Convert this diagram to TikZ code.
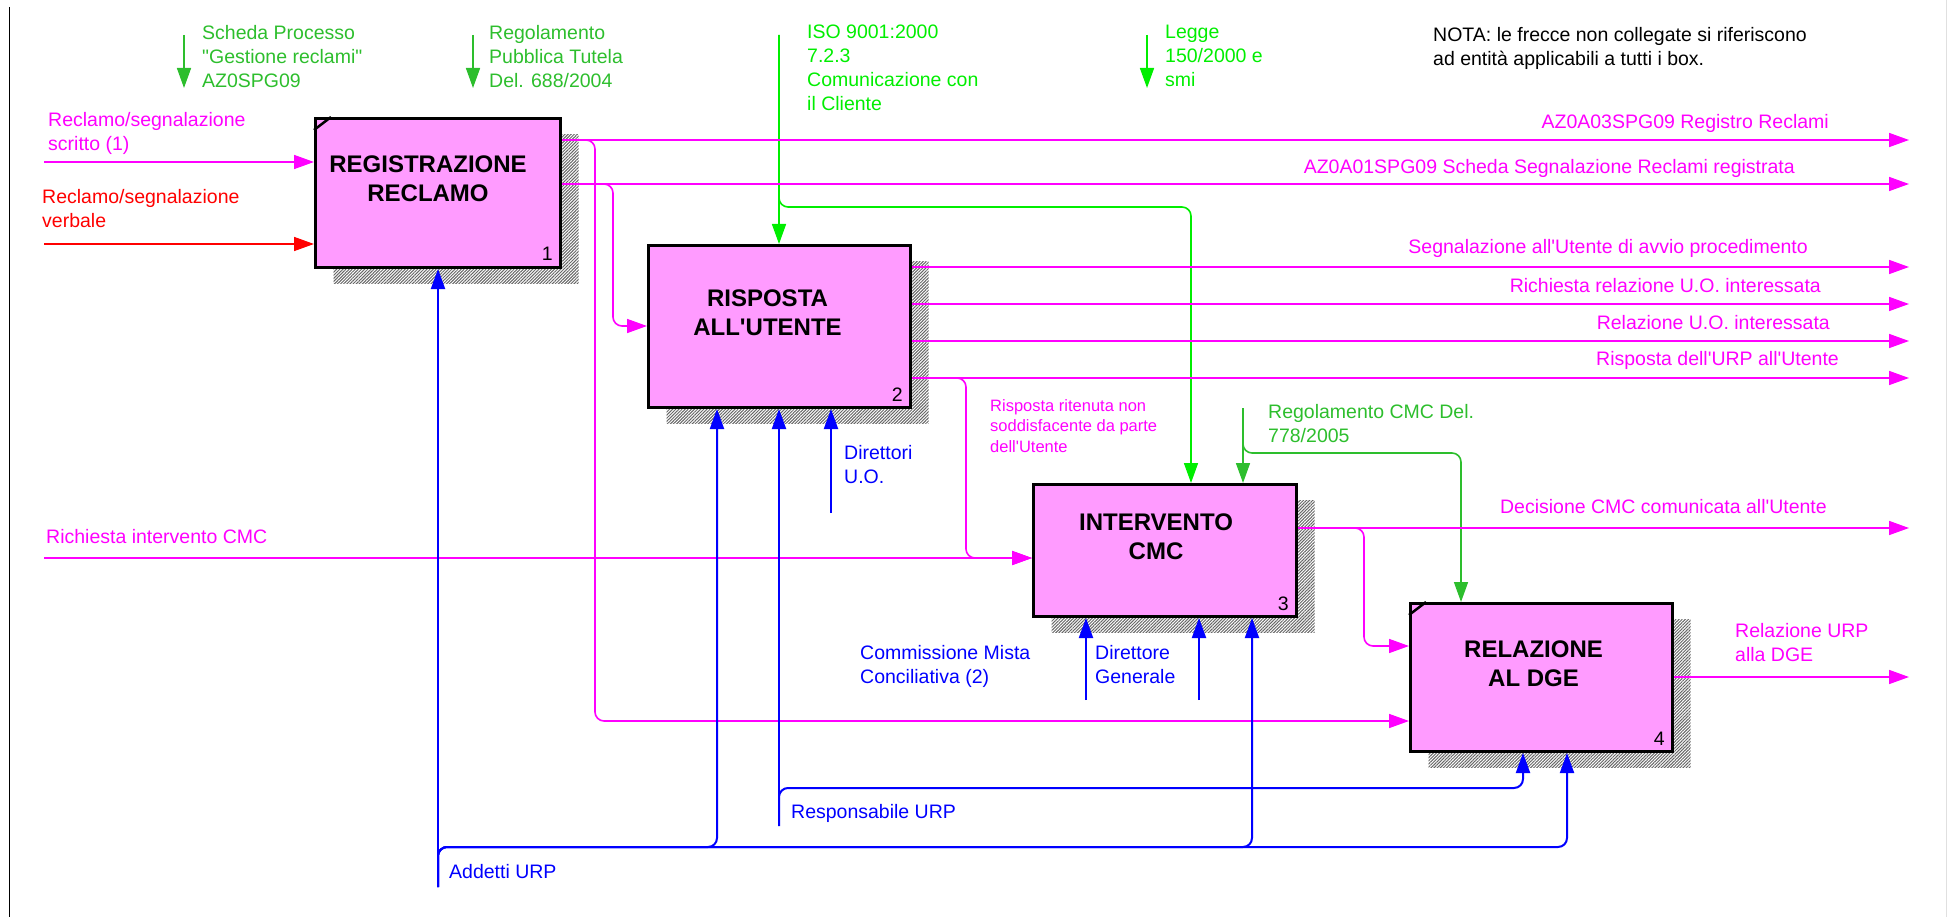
\documentclass[tikz,border=0pt]{standalone}
\usepackage{fontspec}
\newfontfamily\idef{Liberation Sans}
\usepackage{tikz}
\usetikzlibrary{calc,arrows.meta,shadows,patterns.meta}

\definecolor{idefmag}{RGB}{255,0,255}
\definecolor{idefred}{RGB}{255,0,0}
\definecolor{idefblue}{RGB}{0,0,255}
\definecolor{idefgreen}{RGB}{45,190,45}
\definecolor{idefgreenlt}{RGB}{0,238,0}
\definecolor{idefpink}{RGB}{255,155,255}

\tikzset{
    >={Triangle[length=20pt,width=14pt]},
    procbox/.style={draw=black, line width=3pt, fill=idefpink, anchor=north west, inner sep=0pt,
        drop shadow={shadow xshift=18pt, shadow yshift=-16pt, opacity=1,
            pattern={Lines[angle=45,distance=2.2pt,line width=1pt]}, pattern color=black!60}},
    boxtitle/.style={font=\idef\bfseries\fontsize{24}{29}\selectfont, align=center, inner sep=0pt},
    boxnum/.style={font=\idef\fontsize{19.5}{24}\selectfont, inner sep=0pt, anchor=base east},
    lbl/.style={font=\idef\fontsize{19.5}{24}\selectfont, inner sep=0pt, align=left, anchor=north west},
    lblr/.style={font=\idef\fontsize{19.5}{24}\selectfont, inner sep=0pt, anchor=base east},
    smalllbl/.style={font=\idef\fontsize{16.5}{20.5}\selectfont, inner sep=0pt, align=left, anchor=north west},
    mag/.style={draw=idefmag, line width=1.6pt},
    rd/.style={draw=idefred, line width=1.6pt},
    blu/.style={draw=idefblue, line width=2pt},
    grn/.style={draw=idefgreen, line width=1.6pt},
    lime/.style={draw=idefgreenlt, line width=1.6pt},
    corner/.style={rounded corners=9pt}
}

\begin{document}
\begin{tikzpicture}[x=1pt, y=-1pt]
                \useasboundingbox (0,0) rectangle (1948,917);
                \draw [black, line width=1pt] (9,7) -- (9,917);
                \draw [black!12, line width=1pt] (1946,0) -- (1946,917);

                % boxes
                \node [procbox, minimum width=245pt, minimum height=149pt] (b1) at (314,117) {};
                \node [procbox, minimum width=262pt, minimum height=162pt] (b2) at (647,244) {};
                \node [procbox, minimum width=263pt, minimum height=132pt] (b3) at (1032,483) {};
                \node [procbox, minimum width=262pt, minimum height=148pt] (b4) at (1409,602) {};
                \draw [line width=2.5pt] ($(b1.north west)+(0,13)$) -- ($(b1.north west)+(17,0)$);
                \draw [line width=2.5pt] ($(b4.north west)+(0,13)$) -- ($(b4.north west)+(17,0)$);

                \node [boxtitle] (b1t) at ($(b1.center)+(-10,-14)$) {REGISTRAZIONE\\RECLAMO};
                \node [boxtitle] (b2t) at ($(b2.center)+(-12,-14)$) {RISPOSTA\\ALL'UTENTE};
                \node [boxtitle] (b3t) at ($(b3.center)+(-9,-14)$) {INTERVENTO\\CMC};
                \node [boxtitle] (b4t) at ($(b4.center)+(-8,-14)$) {RELAZIONE\\AL DGE};
                \node [boxnum] (b1n) at ($(b1.south east)+(-9,-8)$) {1};
                \node [boxnum] (b2n) at ($(b2.south east)+(-9,-8)$) {2};
                \node [boxnum] (b3n) at ($(b3.south east)+(-9,-8)$) {3};
                \node [boxnum] (b4n) at ($(b4.south east)+(-9,-8)$) {4};

                % controls
                \coordinate (schedaTop) at (184,35);
                \coordinate (pubTop) at (473,35);
                \coordinate (isoTop) at (779,35);
                \coordinate (leggeTop) at (1147,35);
                \coordinate (isoTurn) at (1191,207);
                \coordinate (cmcRegTop) at (1243,408);
                \coordinate (cmcRegTurn) at (1461,453);
                \draw [grn, ->] (schedaTop) -- ++(0,53);
                \draw [grn, ->] (pubTop) -- ++(0,53);
                \draw [lime, ->] (leggeTop) -- ++(0,53);
                \draw [lime, ->] (isoTop) -- (isoTop |- b2.north);
                \draw [lime, ->, corner] (isoTop) |- (isoTurn) -- (isoTurn |- b3.north);
                \draw [grn, ->] (cmcRegTop) -- (cmcRegTop |- b3.north);
                \draw [grn, ->, corner] (cmcRegTop) |- (cmcRegTurn) -- (cmcRegTurn |- b4.north);
                \node [lbl, text=idefgreen] (schedaLbl) at (202,25) {Scheda Processo\\"Gestione reclami"\\AZ0SPG09};
                \node [lbl, text=idefgreen] (pubLbl) at (489,25) {Regolamento\\Pubblica Tutela\\Del. 688/2004};
                \node [lbl, text=idefgreenlt] (isoLbl) at (807,25) {ISO 9001:2000\\7.2.3\\Comunicazione con\\il Cliente};
                \node [lbl, text=idefgreenlt] (leggeLbl) at (1165,25) {Legge\\150/2000 e\\smi};
                \node [lbl, text=idefgreen] (cmcRegLbl) at (1268,404) {Regolamento CMC Del.\\778/2005};
                \node [lbl] (notaLbl) at (1433,27) {NOTA: le frecce non collegate si riferiscono\\ad entità applicabili a tutti i box.};

                % inputs
                \coordinate (scrIn) at (44,162);
                \coordinate (verIn) at (44,244);
                \coordinate (cmcIn) at (44,558);
                \draw [mag, ->] (scrIn) -- (scrIn -| b1.west);
                \draw [rd, ->] (verIn) -- (verIn -| b1.west);
                \draw [mag, ->] (cmcIn) -- (cmcIn -| b3.west);
                \node [lbl, text=idefmag] (scrLbl) at (48,112) {Reclamo/segnalazione\\scritto (1)};
                \node [lbl, text=idefred] (verLbl) at (42,189) {Reclamo/segnalazione\\verbale};
                \node [lbl, text=idefmag] (cmcInLbl) at (46,529) {Richiesta intervento CMC};

                % outputs
                \coordinate (regOut) at (1909,140);
                \coordinate (schOut) at (1909,184);
                \coordinate (avvOut) at (1909,267);
                \coordinate (uoReqOut) at (1909,304);
                \coordinate (uoOut) at (1909,341);
                \coordinate (rispOut) at (1909,378);
                \coordinate (decOut) at (1909,528);
                \coordinate (dgeOut) at (1909,677);
                \coordinate (regDown) at (595,721);
                \coordinate (schDown) at (613,326);
                \coordinate (cmcDown) at (966,558);
                \coordinate (decDown) at (1364,646);
                \draw [mag, ->] (b1.east |- regOut) -- (regOut);
                \draw [mag, ->] (b1.east |- schOut) -- (schOut);
                \draw [mag, ->, corner] (b1.east |- regOut) -| (regDown) -- (regDown -| b4.west);
                \draw [mag, ->, corner] (b1.east |- schOut) -| (schDown) -- (schDown -| b2.west);
                \draw [mag, ->] (b2.east |- avvOut) -- (avvOut);
                \draw [mag, ->] (b2.east |- uoReqOut) -- (uoReqOut);
                \draw [mag, ->] (b2.east |- uoOut) -- (uoOut);
                \draw [mag, ->] (b2.east |- rispOut) -- (rispOut);
                \draw [mag, ->, corner] (b2.east |- rispOut) -| (cmcDown) -- (cmcDown -| b3.west);
                \draw [mag, ->] (b3.east |- decOut) -- (decOut);
                \draw [mag, ->, corner] (b3.east |- decOut) -| (decDown) -- (decDown -| b4.west);
                \draw [mag, ->] (b4.east |- dgeOut) -- (dgeOut);
                \node [lblr, text=idefmag] (regLbl) at (1829,129) {AZ0A03SPG09 Registro Reclami};
                \node [lblr, text=idefmag] (schLbl) at (1795,174) {AZ0A01SPG09 Scheda Segnalazione Reclami registrata};
                \node [lblr, text=idefmag] (avvLbl) at (1808,254) {Segnalazione all'Utente di avvio procedimento};
                \node [lblr, text=idefmag] (uoReqLbl) at (1821,293) {Richiesta relazione U.O. interessata};
                \node [lblr, text=idefmag] (uoLbl) at (1830,329) {Relazione U.O. interessata};
                \node [lblr, text=idefmag] (rispLbl) at (1839,365) {Risposta dell'URP all'Utente};
                \node [lblr, text=idefmag] (decLbl) at (1827,513) {Decisione CMC comunicata all'Utente};
                \node [lbl, text=idefmag] (dgeLbl) at (1735,623) {Relazione URP\\alla DGE};
                \node [smalllbl, text=idefmag] (nonLbl) at (990,399) {Risposta ritenuta non\\soddisfacente da parte\\dell'Utente};

                % mechanisms
                \coordinate (addBot) at (438,887);
                \coordinate (add2) at (717,847);
                \coordinate (add3) at (1252,847);
                \coordinate (add4) at (1567,847);
                \coordinate (respBot) at (779,826);
                \coordinate (resp4) at (1523,788);
                \coordinate (dirBot) at (831,513);
                \coordinate (commBot) at (1086,700);
                \coordinate (dgBot) at (1199,700);
                \draw [blu, ->] (addBot) -- (addBot |- b1.south);
                \draw [blu, ->, corner] (addBot) |- (add2) -- (add2 |- b2.south);
                \draw [blu, ->, corner] (addBot) |- (add3) -- (add3 |- b3.south);
                \draw [blu, ->, corner] (addBot) |- (add4) -- (add4 |- b4.south);
                \draw [blu, ->] (respBot) -- (respBot |- b2.south);
                \draw [blu, ->, corner] (respBot) |- (resp4) -- (resp4 |- b4.south);
                \draw [blu, ->] (dirBot) -- (dirBot |- b2.south);
                \draw [blu, ->] (commBot) -- (commBot |- b3.south);
                \draw [blu, ->] (dgBot) -- (dgBot |- b3.south);
                \node [lbl, text=idefblue] (addLbl) at (449,864) {Addetti URP};
                \node [lbl, text=idefblue] (respLbl) at (791,804) {Responsabile URP};
                \node [lbl, text=idefblue] (dirLbl) at (844,445) {Direttori\\U.O.};
                \node [lbl, text=idefblue] (commLbl) at (860,645) {Commissione Mista\\Conciliativa (2)};
                \node [lbl, text=idefblue] (dgLbl) at (1095,645) {Direttore\\Generale};
\end{tikzpicture}
\end{document}
